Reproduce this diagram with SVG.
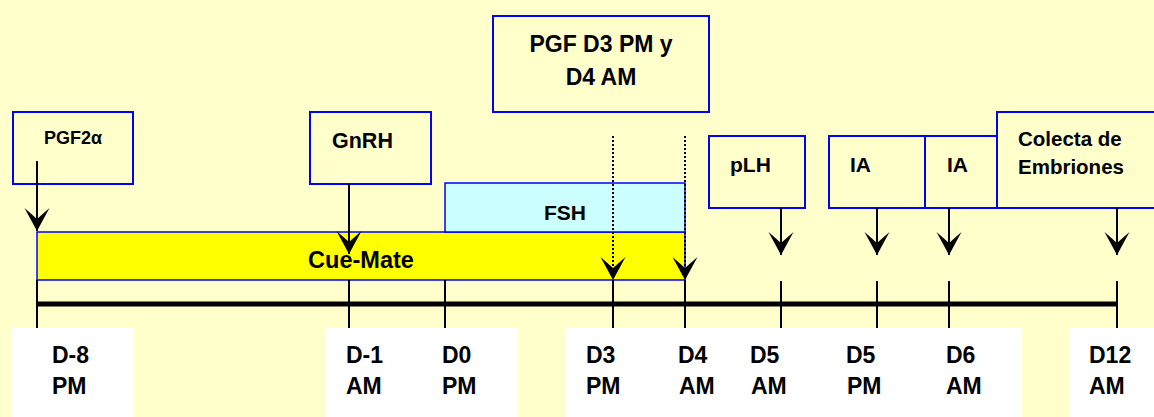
<svg xmlns="http://www.w3.org/2000/svg" width="1154" height="417" viewBox="0 0 1154 417">
<defs>
<style>
.box{fill:none;stroke:#0000FF;stroke-width:2}
.t{font-family:"Liberation Sans",Arial,sans-serif;font-weight:bold;fill:#000}
.ax{stroke:#000;stroke-width:2;fill:none}
.dot{stroke:#000;stroke-width:2;stroke-dasharray:2 2;fill:none}
</style>
<marker id="ah" viewBox="0 0 26 26" refX="25" refY="13" markerWidth="26" markerHeight="26" markerUnits="userSpaceOnUse" orient="auto">
<path d="M25,13 L2,0.5 L13,13 L2,25.5 Z" fill="#000"/>
</marker>
</defs>
<rect x="0" y="0" width="1154" height="417" fill="#FFFFCC"/>
<g id="date-panels" fill="#FFFFFF">
<rect x="12" y="328" width="122" height="89"/>
<rect x="325" y="328" width="193" height="89"/>
<rect x="565" y="328" width="457" height="89"/>
<rect x="1069" y="328" width="85" height="89"/>
</g>
<g id="node-cuemate">
<rect x="37" y="232" width="648" height="48" fill="#FFFF00" stroke="#0000FF" stroke-width="1.5"/>
<text class="t" x="361" y="268" font-size="23.5" text-anchor="middle">Cue-Mate</text>
</g>
<g id="node-fsh">
<rect x="445" y="183" width="240" height="49" fill="#CCFFFF" stroke="#0000FF" stroke-width="1.5"/>
<text class="t" x="565" y="220" font-size="21" text-anchor="middle">FSH</text>
</g>
<g id="node-pgf2a">
<rect class="box" x="13" y="112" width="120" height="72"/>
<text class="t" x="44" y="144" font-size="18">PGF2α</text>
</g>
<g id="node-gnrh">
<rect class="box" x="310" y="112" width="121" height="72"/>
<text class="t" x="332" y="148" font-size="21.5">GnRH</text>
</g>
<g id="node-pgf-d3d4">
<rect class="box" x="493" y="16" width="216" height="96"/>
<text class="t" x="601" y="52" font-size="23" text-anchor="middle">PGF D3 PM y</text>
<text class="t" x="601" y="85" font-size="23" text-anchor="middle">D4 AM</text>
</g>
<g id="node-plh">
<rect class="box" x="709" y="136" width="96" height="72"/>
<text class="t" x="730" y="172" font-size="21">pLH</text>
</g>
<g id="node-ia1">
<rect class="box" x="829" y="136" width="96" height="72"/>
<text class="t" x="850" y="172" font-size="21">IA</text>
</g>
<g id="node-ia2">
<rect class="box" x="925" y="136" width="72" height="72"/>
<text class="t" x="947" y="172" font-size="21">IA</text>
</g>
<g id="node-colecta">
<rect class="box" x="997" y="112" width="170" height="96"/>
<text class="t" x="1018" y="146" font-size="20.5">Colecta de</text>
<text class="t" x="1018" y="174" font-size="20.5">Embriones</text>
</g>
<g id="connectors">
<line x1="37" y1="304" x2="1117" y2="304" stroke="#000" stroke-width="5"/>
<line class="ax" x1="37" y1="280" x2="37" y2="328"/>
<line class="ax" x1="349" y1="280" x2="349" y2="328"/>
<line class="ax" x1="445" y1="280" x2="445" y2="328"/>
<line class="ax" x1="613" y1="280" x2="613" y2="328"/>
<line class="ax" x1="685" y1="280" x2="685" y2="328"/>
<line class="ax" x1="781" y1="281" x2="781" y2="328"/>
<line class="ax" x1="877" y1="281" x2="877" y2="328"/>
<line class="ax" x1="949" y1="281" x2="949" y2="328"/>
<line class="ax" x1="1117" y1="281" x2="1117" y2="328"/>
<line class="ax" x1="37" y1="161" x2="37" y2="231" marker-end="url(#ah)"/>
<line class="ax" x1="349" y1="184" x2="349" y2="254" marker-end="url(#ah)"/>
<line class="dot" x1="613" y1="136" x2="613" y2="280" marker-end="url(#ah)"/>
<line class="dot" x1="685" y1="136" x2="685" y2="280" marker-end="url(#ah)"/>
<line class="ax" x1="781" y1="208" x2="781" y2="255" marker-end="url(#ah)"/>
<line class="ax" x1="877" y1="208" x2="877" y2="255" marker-end="url(#ah)"/>
<line class="ax" x1="949" y1="208" x2="949" y2="255" marker-end="url(#ah)"/>
<line class="ax" x1="1117" y1="208" x2="1117" y2="255" marker-end="url(#ah)"/>
</g>
<g id="date-labels" class="t" font-size="23">
<text x="52" y="363">D-8</text><text x="52" y="394">PM</text>
<text x="346" y="363">D-1</text><text x="346" y="394">AM</text>
<text x="442" y="363">D0</text><text x="442" y="394">PM</text>
<text x="586" y="363">D3</text><text x="586" y="394">PM</text>
<text x="678" y="363">D4</text><text x="679" y="394">AM</text>
<text x="750" y="363">D5</text><text x="751" y="394">AM</text>
<text x="846" y="363">D5</text><text x="847" y="394">PM</text>
<text x="946" y="363">D6</text><text x="946" y="394">AM</text>
<text x="1089" y="363">D12</text><text x="1089" y="394">AM</text>
</g>
</svg>
